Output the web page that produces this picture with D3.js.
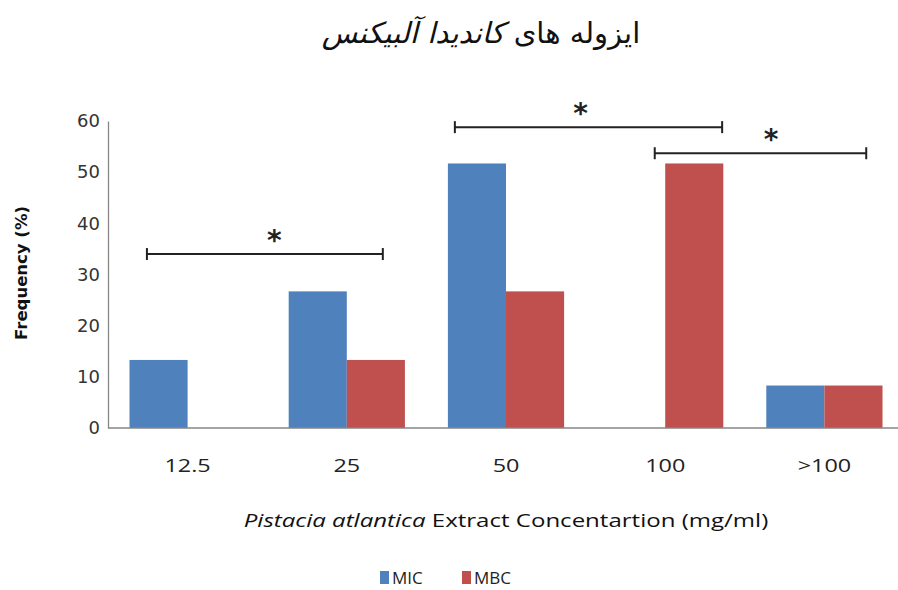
<!DOCTYPE html>
<html>
<head>
<meta charset="utf-8">
<script src="https://cdn.jsdelivr.net/npm/d3@7"></script>
<style>
  body { margin: 0; background: #fff; }
  svg { display: block; }
</style>
</head>
<body>
<div id="chart"></div>
<script>
const WIDTH = 898;
const HEIGHT = 590;

// data
const categories = ['12.5', '25', '50', '100', '>100'];
const series = ['MIC', 'MBC'];
const micValues = [13.3, 26.7, 51.7, 0, 8.3];
const mbcValues = [0, 13.3, 26.7, 51.7, 8.3];
const yTicks = [0, 10, 20, 30, 40, 50, 60];
const colors = ['#4f81bd', '#c0504d'];

// significance brackets: category + fraction of band, height in %
const brackets = [
  { from: ['12.5', 0.15], to: ['25', 0.81], level: 34, star: 0.54 },
  { from: ['50', 0.06], to: ['100', 0.99], level: 58.8, star: 0.47 },
  { from: ['100', 0.41], to: ['>100', 0.86], level: 53.7, star: 0.55 }
];

const rows = categories.map((c, i) => ({ cat: c, values: [micValues[i], mbcValues[i]] }));

// the original image is a bit stretched sideways
const STRETCH = 1.3;

const svg = d3.select('#chart')
  .append('svg')
    .attr('width', WIDTH)
    .attr('height', HEIGHT);

const x = d3.scaleBand()
  .domain(categories)
  .range([108, 904])
  .paddingInner(0.27)
  .paddingOuter(0.135);

const xs = d3.scaleBand()
  .domain(series)
  .range([0, x.bandwidth()]);

const y = d3.scaleLinear()
  .domain([0, 60])
  .range([428, 121]);

//bars
svg.append('g')
  .selectAll('g')
  .data(rows)
  .enter().append('g')
    .attr('transform', d => `translate(${x(d.cat)},0)`)
  .selectAll('rect')
  .data(d => d.values.map((v, i) => ({ s: series[i], v: v, i: i })))
  .enter().append('rect')
    .attr('x', d => xs(d.s))
    .attr('y', d => y(d.v))
    .attr('width', xs.bandwidth())
    .attr('height', d => y(0) - y(d.v))
    .attr('fill', d => colors[d.i]);

//axes
const yAxis = svg.append('g')
  .attr('transform', 'translate(108,0)')
  .call(d3.axisLeft(y).tickValues(yTicks).tickSize(0).tickPadding(8));
yAxis.select('.domain').attr('stroke', '#868686').attr('stroke-width', 1.3);
yAxis.selectAll('text')
  .attr('font-family', 'DejaVu Sans, sans-serif')
  .attr('font-size', 18)
  .attr('fill', '#333');

svg.append('line')
  .attr('x1', 108).attr('x2', WIDTH)
  .attr('y1', y(0)).attr('y2', y(0))
  .attr('stroke', '#868686').attr('stroke-width', 1.3);

svg.append('g')
  .selectAll('text')
  .data(categories)
  .enter().append('text')
    .attr('transform', d => `translate(${x(d) + x.bandwidth() / 2},472) scale(${STRETCH},1)`)
    .attr('text-anchor', 'middle')
    .attr('font-family', 'Open Sans, sans-serif')
    .attr('font-size', 18)
    .attr('fill', '#222')
    .text(d => d);

//brackets
const bx = p => x(p[0]) + p[1] * x.bandwidth();
const br = svg.append('g').selectAll('g')
  .data(brackets)
  .enter().append('g')
    .attr('stroke', '#222')
    .attr('stroke-width', 2);
br.append('line')
  .attr('x1', d => bx(d.from)).attr('x2', d => bx(d.to))
  .attr('y1', d => y(d.level)).attr('y2', d => y(d.level));
br.append('line')
  .attr('x1', d => bx(d.from)).attr('x2', d => bx(d.from))
  .attr('y1', d => y(d.level) - 6).attr('y2', d => y(d.level) + 6);
br.append('line')
  .attr('x1', d => bx(d.to)).attr('x2', d => bx(d.to))
  .attr('y1', d => y(d.level) - 6).attr('y2', d => y(d.level) + 6);
br.append('text')
  .attr('stroke', 'none')
  .attr('x', d => bx(d.from) + d.star * (bx(d.to) - bx(d.from)))
  .attr('y', d => y(d.level) - 4)
  .attr('text-anchor', 'middle')
  .attr('font-family', 'DejaVu Sans, sans-serif')
  .attr('font-weight', 'bold')
  .attr('font-size', 28)
  .attr('fill', '#222')
  .text('*');

//titles
const title = svg.append('text')
  .attr('x', 481)
  .attr('y', 43)
  .attr('text-anchor', 'middle')
  .attr('direction', 'rtl')
  .attr('font-family', 'DejaVu Sans, sans-serif')
  .attr('font-size', 29)
  .attr('fill', '#111');
title.append('tspan').text('ایزوله های ');
title.append('tspan').attr('font-style', 'italic').text('کاندیدا آلبیکنس');

svg.append('text')
  .attr('transform', 'translate(27,273) rotate(-90)')
  .attr('text-anchor', 'middle')
  .attr('font-family', 'DejaVu Sans, sans-serif')
  .attr('font-weight', 'bold')
  .attr('font-size', 16.5)
  .attr('fill', '#111')
  .text('Frequency (%)');

const xt = svg.append('text')
  .attr('transform', `translate(506,527) scale(${STRETCH},1)`)
  .attr('text-anchor', 'middle')
  .attr('font-family', 'Open Sans, sans-serif')
  .attr('font-size', 18.5)
  .attr('fill', '#111');
xt.append('tspan').attr('font-style', 'italic').text('Pistacia atlantica');
xt.append('tspan').text(' Extract Concentartion (mg/ml)');

//legend
const legend = svg.append('g').selectAll('g')
  .data(series)
  .enter().append('g')
    .attr('transform', (d, i) => `translate(${380 + i * 82},570)`);
legend.append('rect')
  .attr('width', 9).attr('height', 13).attr('y', 1)
  .attr('fill', (d, i) => colors[i]);
legend.append('text')
  .attr('x', 12)
  .attr('y', 14)
  .attr('font-family', 'Open Sans, sans-serif')
  .attr('font-size', 17)
  .attr('fill', '#222')
  .text(d => d);
</script>
</body>
</html>
